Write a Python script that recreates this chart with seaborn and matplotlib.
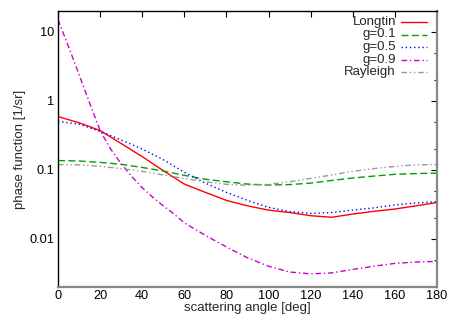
import numpy as np
import pandas as pd
import matplotlib
matplotlib.use("Agg")
import matplotlib.pyplot as plt
import matplotlib.ticker as mticker
import seaborn as sns

angle = [0, 10, 20, 30, 40, 50, 60, 70, 80, 90, 100, 110, 120, 130, 140, 150, 160, 170, 180]
longtin = [0.59, 0.48, 0.37, 0.24, 0.155, 0.097, 0.062, 0.047, 0.036, 0.030, 0.026, 0.024,
           0.0216, 0.0205, 0.0228, 0.025, 0.027, 0.030, 0.0335]
g01 = [0.136, 0.134, 0.128, 0.12, 0.108, 0.096, 0.083, 0.073, 0.067, 0.062, 0.060, 0.061,
       0.064, 0.070, 0.076, 0.081, 0.086, 0.088, 0.0895]
g05 = [0.50, 0.46, 0.36, 0.27, 0.20, 0.14, 0.092, 0.064, 0.047, 0.036, 0.0285, 0.0248,
       0.0233, 0.024, 0.026, 0.028, 0.031, 0.033, 0.0345]
rayleigh = [0.119, 0.118, 0.112, 0.104, 0.095, 0.084, 0.075, 0.067, 0.0615, 0.0597, 0.0615,
            0.067, 0.075, 0.084, 0.095, 0.104, 0.112, 0.118, 0.119]

angle_g09 = [0, 5, 10, 15, 20, 25, 30, 35, 40, 45, 50, 55, 60, 70, 80, 90, 100, 110, 120,
             130, 140, 150, 160, 170, 180]
g09 = [15.0, 6.1, 2.4, 0.93, 0.37, 0.20, 0.122, 0.080, 0.055, 0.040, 0.030, 0.023, 0.017,
       0.0112, 0.0076, 0.0053, 0.0040, 0.0033, 0.0031, 0.0032, 0.0036, 0.0040, 0.0044,
       0.0046, 0.0047]

series_names = ["Longtin", "g=0.1", "g=0.5", "g=0.9", "Rayleigh"]
series_angles = [angle, angle, angle, angle_g09, angle]
series_values = [longtin, g01, g05, g09, rayleigh]
colors = ["#ff0000", "#00a000", "#0000ff", "#cc00cc", "#999999"]
dashes = [None, (5, 2.5), (1, 2), (4, 2, 1, 2), (4, 2, 1, 2, 1, 2)]

x_ticks = [0, 20, 40, 60, 80, 100, 120, 140, 160, 180]
y_ticks = [0.01, 0.1, 1, 10]
y_tick_labels = ["0.01", "0.1", "1", "10"]

df = pd.DataFrame({
    "angle": np.concatenate(series_angles),
    "value": np.concatenate(series_values),
    "series": np.concatenate([[n] * len(a) for n, a in zip(series_names, series_angles)]),
})

sns.set_style("white")
plt.rcParams["font.family"] = ["Liberation Sans", "DejaVu Sans"]

W, H = 450, 315
fig = plt.figure(figsize=(4.5, 3.15), dpi=100)
L, R, T, B = 58, 437, 11, 287
ax = fig.add_axes([L / W, 1 - B / H, (R - L) / W, (B - T) / H])

for name, col, d in zip(series_names, colors, dashes):
    sub = df[df["series"] == name]
    sns.lineplot(data=sub, x="angle", y="value", ax=ax, color=col, lw=1.0,
                 legend=False, estimator=None, sort=False)
    if d is not None:
        ax.lines[-1].set_dashes(d)

ax.set_yscale("log")
ax.set_xlim(0, 180)
ax.set_ylim(0.002, 20)
ax.set_xticks(x_ticks)
ax.set_xticklabels([str(t) for t in x_ticks])
ax.yaxis.set_major_locator(mticker.FixedLocator(y_ticks))
ax.yaxis.set_major_formatter(mticker.FixedFormatter(y_tick_labels))
ax.yaxis.set_minor_locator(mticker.LogLocator(base=10, subs=[2, 5]))
ax.yaxis.set_minor_formatter(mticker.NullFormatter())

ax.tick_params(axis="both", which="major", direction="in", length=4, width=0.8,
               top=True, right=True, labelsize=9.2, colors="#000000", pad=2.5)
ax.tick_params(axis="both", which="minor", direction="in", length=2, width=0.8,
               top=True, right=True)
ax.tick_params(axis="x", which="minor", bottom=False, top=False)

for side in ["left", "top"]:
    ax.spines[side].set_color("#000000")
    ax.spines[side].set_linewidth(1.0)
for side in ["right", "bottom"]:
    ax.spines[side].set_color("#888888")
    ax.spines[side].set_linewidth(1.6)

ax.set_xlabel("scattering angle [deg]", fontsize=9.5, labelpad=0)
ax.set_ylabel("phase function [1/sr]", fontsize=9.5, labelpad=2.5)

# gnuplot-style key: text right-aligned, sample to the right
def ax_xy(px, py):
    return (px - L) / (R - L), (B - py) / (B - T)

for i, (name, col, d) in enumerate(zip(series_names, colors, dashes)):
    py = 22 + 12.5 * i
    tx, ty = ax_xy(396, py)
    ax.text(tx, ty, name, transform=ax.transAxes, ha="right", va="center", fontsize=9.5)
    x0, _ = ax_xy(401, py)
    x1, _ = ax_xy(427, py)
    ln, = ax.plot([x0, x1], [ty, ty], transform=ax.transAxes, color=col, lw=1.0,
                  clip_on=False)
    if d is not None:
        ln.set_dashes(d)

fig.savefig("out.png", dpi=100)
